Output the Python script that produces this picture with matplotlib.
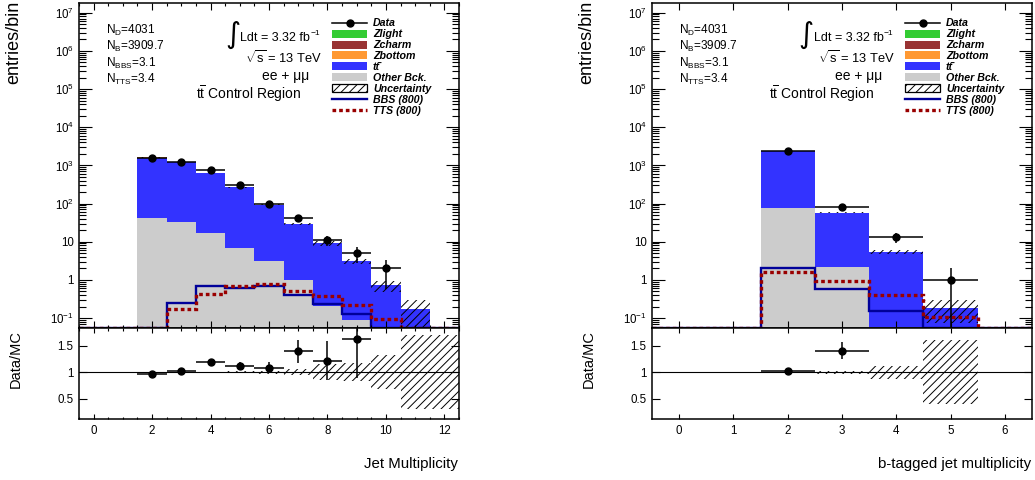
import numpy as np
import matplotlib
matplotlib.use('Agg')
import matplotlib.pyplot as plt
from matplotlib.patches import Rectangle
from matplotlib.lines import Line2D
from matplotlib.ticker import FixedLocator, FuncFormatter, NullFormatter

plt.rcParams['font.family'] = ['Liberation Sans', 'DejaVu Sans']
plt.rcParams['mathtext.fontset'] = 'custom'
plt.rcParams['mathtext.rm'] = 'Liberation Sans'
plt.rcParams['mathtext.it'] = 'Liberation Sans:italic:bold'
plt.rcParams['mathtext.bf'] = 'Liberation Sans:bold'
plt.rcParams['hatch.linewidth'] = 0.7

# ---------------- data: jet multiplicity (bins 0..12) ----------------
jet_bins = np.arange(0, 13)
jet_data = [0, 0, 1566, 1265, 742, 299, 100, 41, 11, 5, 2, 0, 0]
jet_other = [0, 0, 43, 32.6, 16.6, 6.9, 3.1, 1.0, 0.21, 0.087, 0, 0, 0]
jet_ttbar = [0, 0, 1568, 1192, 606, 259, 88.6, 28.4, 8.8, 3.0, 0.73, 0.17, 0]
jet_zbottom = [0, 0, 3.0, 2.4, 1.2, 0.5, 0.2, 0.08, 0.02, 0, 0, 0, 0]
jet_zcharm = [0, 0, 0.5, 0.4, 0.2, 0.1, 0.05, 0, 0, 0, 0, 0, 0]
jet_zlight = [0, 0, 0.3, 0.2, 0.1, 0.05, 0, 0, 0, 0, 0, 0, 0]
jet_bbs = [0, 0, 0, 0.25, 0.70, 0.60, 0.68, 0.41, 0.236, 0.125, 0, 0, 0]
jet_tts = [0, 0, 0, 0.175, 0.43, 0.69, 0.78, 0.50, 0.39, 0.22, 0.093, 0, 0]
jet_unc = [0, 0, 0.01, 0.01, 0.012, 0.015, 0.03, 0.055, 0.15, 0.17, 0.32, 0.70, 0.70]
jet_xticks = [0, 2, 4, 6, 8, 10, 12]

# ---------------- data: b-tagged jet multiplicity (bins 0..6) ----------------
btag_bins = np.arange(0, 7)
btag_data = [0, 0, 2400, 82, 13, 1, 0]
btag_other = [0, 0, 78, 2.2, 0.06, 0, 0]
btag_ttbar = [0, 0, 2250, 55, 5.24, 0.186, 0]
btag_zbottom = [0, 0, 15, 0.8, 0, 0, 0]
btag_zcharm = [0, 0, 4, 0.2, 0, 0, 0]
btag_zlight = [0, 0, 3, 0.1, 0, 0, 0]
btag_bbs = [0, 0, 2.0, 0.58, 0.15, 0, 0]
btag_tts = [0, 0, 1.6, 0.91, 0.40, 0.11, 0]
btag_unc = [0, 0, 0.01, 0.03, 0.12, 0.60, 0]
btag_xticks = [0, 1, 2, 3, 4, 5, 6]

y_decades = [-1, 0, 1, 2, 3, 4, 5, 6, 7]
ratio_ticks = [0.5, 1, 1.5]

summary_lines = [r'N$_{\mathrm{D}}$=4031', r'N$_{\mathrm{B}}$=3909.7',
                 r'N$_{\mathrm{BBS}}$=3.1', r'N$_{\mathrm{TTS}}$=3.4']
legend_labels = ['Data', 'Zlight', 'Zcharm', 'Zbottom', 'tt\u0304',
                 'Other Bck.', 'Uncertainty', 'BBS (800)', 'TTS (800)']

C_ZLIGHT = '#33cc33'
C_ZCHARM = '#993333'
C_ZBOTTOM = '#ff9933'
C_TTBAR = '#3333ff'
C_OTHER = '#cccccc'
C_BBS = '#000099'
C_TTS = '#990000'

YMIN, YMAX = 0.055, 1.8e7
RMIN, RMAX = 0.12, 1.83

W, H = 1035, 480
fig = plt.figure(figsize=(W / 100, H / 100), dpi=100)


def fx(px):
    return (px - 79) / 380.0


def fy(py):
    return 1 - (py - 3) / 325.0


def logfmt(v, pos):
    e = int(round(np.log10(v)))
    if e == 0:
        return '1'
    if e == 1:
        return '10'
    return r'$10^{%d}$' % e


def draw_panel(left_px, bins, data, other, ttbar, zb, zc, zl, bbs, tts, unc,
               xticks, nminor, xlabel):
    bins = np.asarray(bins, float)
    data = np.asarray(data, float)
    edges = np.append(bins - 0.5, bins[-1] + 0.5)
    ax = fig.add_axes([left_px / W, 1 - 328 / H, 380 / W, 325 / H])
    axr = fig.add_axes([left_px / W, 1 - 419 / H, 380 / W, 91 / H])

    # tick positions (inside the visible range only)
    step = (xticks[1] - xticks[0]) / nminor
    xminor = np.arange(edges[0], edges[-1] + 1e-9, step)
    xminor = xminor[np.abs(np.round(xminor / step) * step - xminor) < 1e-6]
    ymaj = [10.0 ** e for e in y_decades]
    ymin_ = [k * 10.0 ** e for e in [-2] + y_decades for k in range(2, 10)]
    ymin_ = [v for v in ymin_ if YMIN <= v <= YMAX]

    # stacked backgrounds
    cum = np.zeros(len(bins))
    for vals, col in [(other, C_OTHER), (ttbar, C_TTBAR), (zb, C_ZBOTTOM),
                      (zc, C_ZCHARM), (zl, C_ZLIGHT)]:
        vals = np.asarray(vals, float)
        ax.stairs(cum + vals, edges, baseline=cum.copy(), fill=True,
                  color=col, lw=0)
        cum = cum + vals
    mc = cum
    unc = np.asarray(unc, float)

    # uncertainty band
    ax.bar(bins, 2 * mc * unc, bottom=mc * (1 - unc), width=1.0, fill=False,
           hatch='////', edgecolor='black', lw=0)

    # signals
    ax.stairs(np.maximum(np.asarray(bbs, float), YMIN), edges, color=C_BBS,
              lw=1.7)
    ax.stairs(np.maximum(np.asarray(tts, float), YMIN), edges, color=C_TTS,
              lw=2.4, linestyle=(0, (1.1, 0.9)))

    # data
    m = data > 0
    ax.errorbar(bins[m], data[m], xerr=0.5, yerr=np.sqrt(data[m]), fmt='o',
                color='black', ms=5, lw=1.1, capsize=0, zorder=5)

    ax.set_yscale('log')
    ax.set_ylim(YMIN, YMAX)
    ax.set_xlim(edges[0], edges[-1])
    ax.yaxis.set_major_locator(FixedLocator(ymaj))
    ax.yaxis.set_minor_locator(FixedLocator(ymin_))
    ax.yaxis.set_major_formatter(FuncFormatter(logfmt))
    ax.yaxis.set_minor_formatter(NullFormatter())
    ax.xaxis.set_major_locator(FixedLocator(xticks))
    ax.xaxis.set_minor_locator(FixedLocator(xminor))
    ax.tick_params(which='both', direction='in', top=True, right=True,
                   labelbottom=False, labelsize=8.3, pad=3.6)
    ax.tick_params(axis='y', which='major', length=9.4, width=0.8)
    ax.tick_params(axis='y', which='minor', length=4.7, width=0.8)
    ax.tick_params(axis='x', which='major', length=5, width=0.8)
    ax.tick_params(axis='x', which='minor', length=2.5, width=0.8)
    for s in ax.spines.values():
        s.set_linewidth(1.1)

    # ratio panel
    r_ok = (mc > 0) & (data > 0)
    ratio = np.where(r_ok, data / np.where(mc > 0, mc, 1), np.nan)
    rerr = np.where(r_ok, np.sqrt(data) / np.where(mc > 0, mc, 1), np.nan)
    show = r_ok & (ratio > RMIN) & (ratio < RMAX)
    axr.bar(bins, 2 * unc, bottom=1 - unc, width=1.0, fill=False,
            hatch='////', edgecolor='black', lw=0)
    axr.axhline(1, color='black', lw=0.8)
    axr.errorbar(bins[show], ratio[show], xerr=0.5, yerr=rerr[show], fmt='o',
                 color='black', ms=5, lw=1.1, capsize=0, zorder=5)
    axr.set_xlim(edges[0], edges[-1])
    axr.set_ylim(RMIN, RMAX)
    axr.yaxis.set_major_locator(FixedLocator(ratio_ticks))
    axr.yaxis.set_major_formatter(FuncFormatter(lambda v, p: '%g' % v))
    axr.xaxis.set_major_locator(FixedLocator(xticks))
    axr.xaxis.set_minor_locator(FixedLocator(xminor))
    axr.tick_params(which='both', direction='in', top=True, right=True,
                    labelsize=8.3, pad=4)
    axr.tick_params(axis='y', which='major', length=5.8, width=0.8)
    axr.tick_params(axis='x', which='major', length=3.6, width=0.8)
    axr.tick_params(axis='x', which='minor', length=1.8, width=0.8)
    for s in axr.spines.values():
        s.set_linewidth(1.1)

    # annotations
    for i, t in enumerate(summary_lines):
        ax.text(fx(106), fy(34.3 + 16.1 * i), t, transform=ax.transAxes,
                fontsize=8.5, va='baseline', ha='left')
    ax.text(fx(240), fy(35), '\u222b', transform=ax.transAxes, fontsize=21,
            family='DejaVu Sans', va='center', ha='right')
    ax.text(fx(240.5), fy(41), 'Ldt = 3.32 fb', transform=ax.transAxes,
            fontsize=9, va='baseline', ha='left')
    ax.text(fx(311), fy(35), '\u22121', transform=ax.transAxes,
            fontsize=6, va='baseline', ha='left')
    ax.text(fx(322), fy(63.3), r'$\sqrt{\mathrm{s}}$ = 13 TeV',
            transform=ax.transAxes, fontsize=9.3, va='baseline', ha='right')
    ax.text(fx(262), fy(80), 'ee + \u03bc\u03bc', transform=ax.transAxes,
            fontsize=10, va='baseline', ha='left')
    ax.text(fx(196), fy(99), r'$\mathrm{t\overline{t}}$ Control Region',
            transform=ax.transAxes, fontsize=10, va='baseline', ha='left')

    # legend (manual, ROOT style)
    x0, x1 = fx(332), fx(367)
    bh = 8 / 325.0
    for i, lab in enumerate(legend_labels):
        base = 26 + 10.96 * i
        yc = fy(base - 3.4)
        if i == 0:
            ax.add_line(Line2D([x0, x1], [yc, yc], color='black', lw=1.1,
                               transform=ax.transAxes, clip_on=False))
            ax.add_line(Line2D([(x0 + x1) / 2], [yc], color='black',
                               marker='o', ms=5, transform=ax.transAxes,
                               clip_on=False))
        elif i in (1, 2, 3, 4, 5):
            col = [C_ZLIGHT, C_ZCHARM, C_ZBOTTOM, C_TTBAR, C_OTHER][i - 1]
            ax.add_patch(Rectangle((x0, yc - bh / 2), x1 - x0, bh,
                                   transform=ax.transAxes, facecolor=col,
                                   edgecolor='none', clip_on=False))
        elif i == 6:
            ax.add_patch(Rectangle((x0, yc - bh / 2), x1 - x0, bh,
                                   transform=ax.transAxes, facecolor='white',
                                   edgecolor='black', hatch='////', lw=0.9,
                                   clip_on=False))
        elif i == 7:
            ax.add_line(Line2D([x0, x1], [yc, yc], color=C_BBS, lw=1.7,
                               transform=ax.transAxes, clip_on=False))
        else:
            ax.add_line(Line2D([x0, x1], [yc, yc], color=C_TTS, lw=2.4,
                               linestyle=(0, (1.1, 0.9)),
                               transform=ax.transAxes, clip_on=False))
        ax.text(fx(373), fy(base), lab, transform=ax.transAxes, fontsize=7.7,
                fontweight='bold', fontstyle='italic', va='baseline',
                ha='left')

    # axis titles
    fig.text((left_px - 65) / W, 1 - 1 / H, 'entries/bin', rotation=90,
             ha='center', va='top', fontsize=13)
    fig.text((left_px - 63) / W, 1 - 330 / H, 'Data/MC', rotation=90,
             ha='center', va='top', fontsize=10.5)
    fig.text((left_px + 379) / W, 1 - 468 / H, xlabel, ha='right',
             va='baseline', fontsize=10.8)
    return ax, axr


draw_panel(79, jet_bins, jet_data, jet_other, jet_ttbar, jet_zbottom,
           jet_zcharm, jet_zlight, jet_bbs, jet_tts, jet_unc, jet_xticks, 4,
           'Jet Multiplicity')
draw_panel(652, btag_bins, btag_data, btag_other, btag_ttbar, btag_zbottom,
           btag_zcharm, btag_zlight, btag_bbs, btag_tts, btag_unc,
           btag_xticks, 5, 'b-tagged jet multiplicity')

fig.savefig('out.png', dpi=100)
